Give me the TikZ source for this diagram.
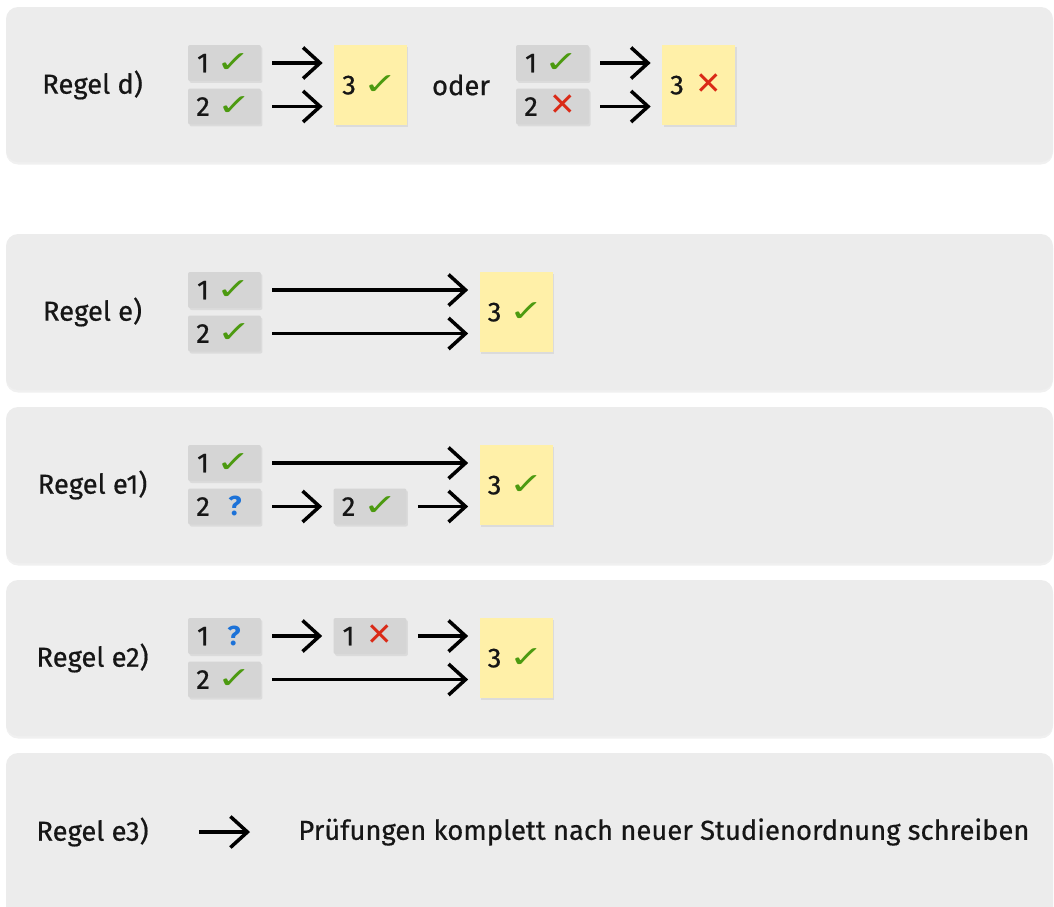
\documentclass[tikz,border=0pt]{standalone}
\usepackage{fontspec}
\setmainfont{Fira Sans}[UprightFeatures={FakeBold=0.6}]
\newfontfamily\symfont{DejaVu Sans}
\usepackage{xcolor}
\usepackage{graphicx}
\usetikzlibrary{arrows.meta,shadows}
\definecolor{panelgrau}{HTML}{ECECEC}
\definecolor{kastengrau}{HTML}{D5D5D5}
\definecolor{kastengelb}{HTML}{FFF0A8}
\definecolor{hakengruen}{HTML}{4C9A10}
\definecolor{kreuzrot}{HTML}{DA2A17}
\definecolor{fragblau}{HTML}{1C72D8}
\definecolor{schrift}{HTML}{161616}
\newcommand{\ok}{\makebox[1.3em]{\scalebox{1.3}[0.95]{\fontsize{18pt}{18pt}\symfont\color{hakengruen}✓}}}
\newcommand{\nein}{\makebox[1.3em]{\fontsize{18pt}{18pt}\symfont\color{kreuzrot}✕}}
\newcommand{\frage}{\makebox[1.3em]{\bfseries\color{fragblau}?}}
\tikzset{
  panel/.style  = { fill=panelgrau, rounded corners=0.24cm,
                    drop shadow={shadow xshift=0cm, shadow yshift=-0.05cm, opacity=0.12} },
  regel/.style  = { text=schrift, font=\fontsize{15.6pt}{18pt}\selectfont },
  pruef/.style  = { fill=kastengrau, rounded corners=0.04cm, minimum width=1.46cm,
                    minimum height=0.72cm, inner sep=0pt, text=schrift,
                    text height=10.6pt, text depth=0pt,
                    font=\fontsize{15.6pt}{18pt}\selectfont,
                    drop shadow={shadow xshift=0.03cm, shadow yshift=-0.04cm, opacity=0.15} },
  ergebnis/.style = { pruef, fill=kastengelb, rounded corners=0pt, minimum height=1.6cm },
  pfeil/.style  = { draw=black, line width=2pt, -{Straight Barb[length=0.34cm, width=0.62cm]},
                    shorten <=0.22cm, shorten >=0.22cm }
}

\begin{document}
\begin{tikzpicture}[x=0.02cm, y=-0.02cm]
\useasboundingbox (0,0) rectangle (1054,906);
\clip (0,0) rectangle (1054,906);

% Hintergrundflaechen
\fill[panel] (6,7) rectangle (1053,162);
\fill[panel] (6,234) rectangle (1053,390);
\fill[panel] (6,407) rectangle (1053,563);
\fill[panel] (6,580) rectangle (1053,736);
\fill[panel] (6,753) rectangle (1053,930);

% Regel d)
\node[regel] (d_label) at (92.5,85) {Regel d)};
\node[pruef] (d_eins) at (224.5,63) {1 \ok};
\node[pruef] (d_zwei) at (224.5,106.5) {2 \ok};
\node[ergebnis] (d_drei) at (370.5,85) {3 \ok};
\draw[pfeil] (d_eins.east) -- (d_eins.east -| d_drei.west);
\draw[pfeil] (d_zwei.east) -- (d_zwei.east -| d_drei.west);
\node[regel] (d_oder) at (461,85) {oder};
\node[pruef] (d_eins_b) at (552.5,63) {1 \ok};
\node[pruef] (d_zwei_b) at (552.5,106.5) {2 \nein};
\node[ergebnis] (d_drei_b) at (698.5,85) {3 \nein};
\draw[pfeil] (d_eins_b.east) -- (d_eins_b.east -| d_drei_b.west);
\draw[pfeil] (d_zwei_b.east) -- (d_zwei_b.east -| d_drei_b.west);

% Regel e)
\node[regel] (e_label) at (92.5,312) {Regel e)};
\node[pruef] (e_eins) at (224.5,290) {1 \ok};
\node[pruef] (e_zwei) at (224.5,333.5) {2 \ok};
\node[ergebnis] (e_drei) at (516,312) {3 \ok};
\draw[pfeil] (e_eins.east) -- (e_eins.east -| e_drei.west);
\draw[pfeil] (e_zwei.east) -- (e_zwei.east -| e_drei.west);

% Regel e1)
\node[regel] (e1_label) at (92.5,485) {Regel e1)};
\node[pruef] (e1_eins) at (224.5,463) {1 \ok};
\node[pruef] (e1_zwei) at (224.5,506.5) {2 \frage};
\node[pruef] (e1_nach) at (370,506.5) {2 \ok};
\node[ergebnis] (e1_drei) at (516,485) {3 \ok};
\draw[pfeil] (e1_eins.east) -- (e1_eins.east -| e1_drei.west);
\draw[pfeil] (e1_zwei) -- (e1_nach);
\draw[pfeil] (e1_nach.east) -- (e1_nach.east -| e1_drei.west);

% Regel e2)
\node[regel] (e2_label) at (92.5,658) {Regel e2)};
\node[pruef] (e2_eins) at (224.5,636) {1 \frage};
\node[pruef] (e2_nach) at (370,636) {1 \nein};
\node[pruef] (e2_zwei) at (224.5,679.5) {2 \ok};
\node[ergebnis] (e2_drei) at (516,658) {3 \ok};
\draw[pfeil] (e2_eins) -- (e2_nach);
\draw[pfeil] (e2_nach.east) -- (e2_nach.east -| e2_drei.west);
\draw[pfeil] (e2_zwei.east) -- (e2_zwei.east -| e2_drei.west);

% Regel e3)
\node[regel] (e3_label) at (92.5,832) {Regel e3)};
\coordinate (e3_pfeil) at (199,832);
\node[regel, anchor=west, inner sep=0pt] (e3_text) at (298,832) {Prüfungen komplett nach neuer Studienordnung schreiben};
\draw[pfeil, shorten <=0pt, shorten >=0.96cm] (e3_pfeil) -- (e3_text.west);
\end{tikzpicture}
\end{document}
